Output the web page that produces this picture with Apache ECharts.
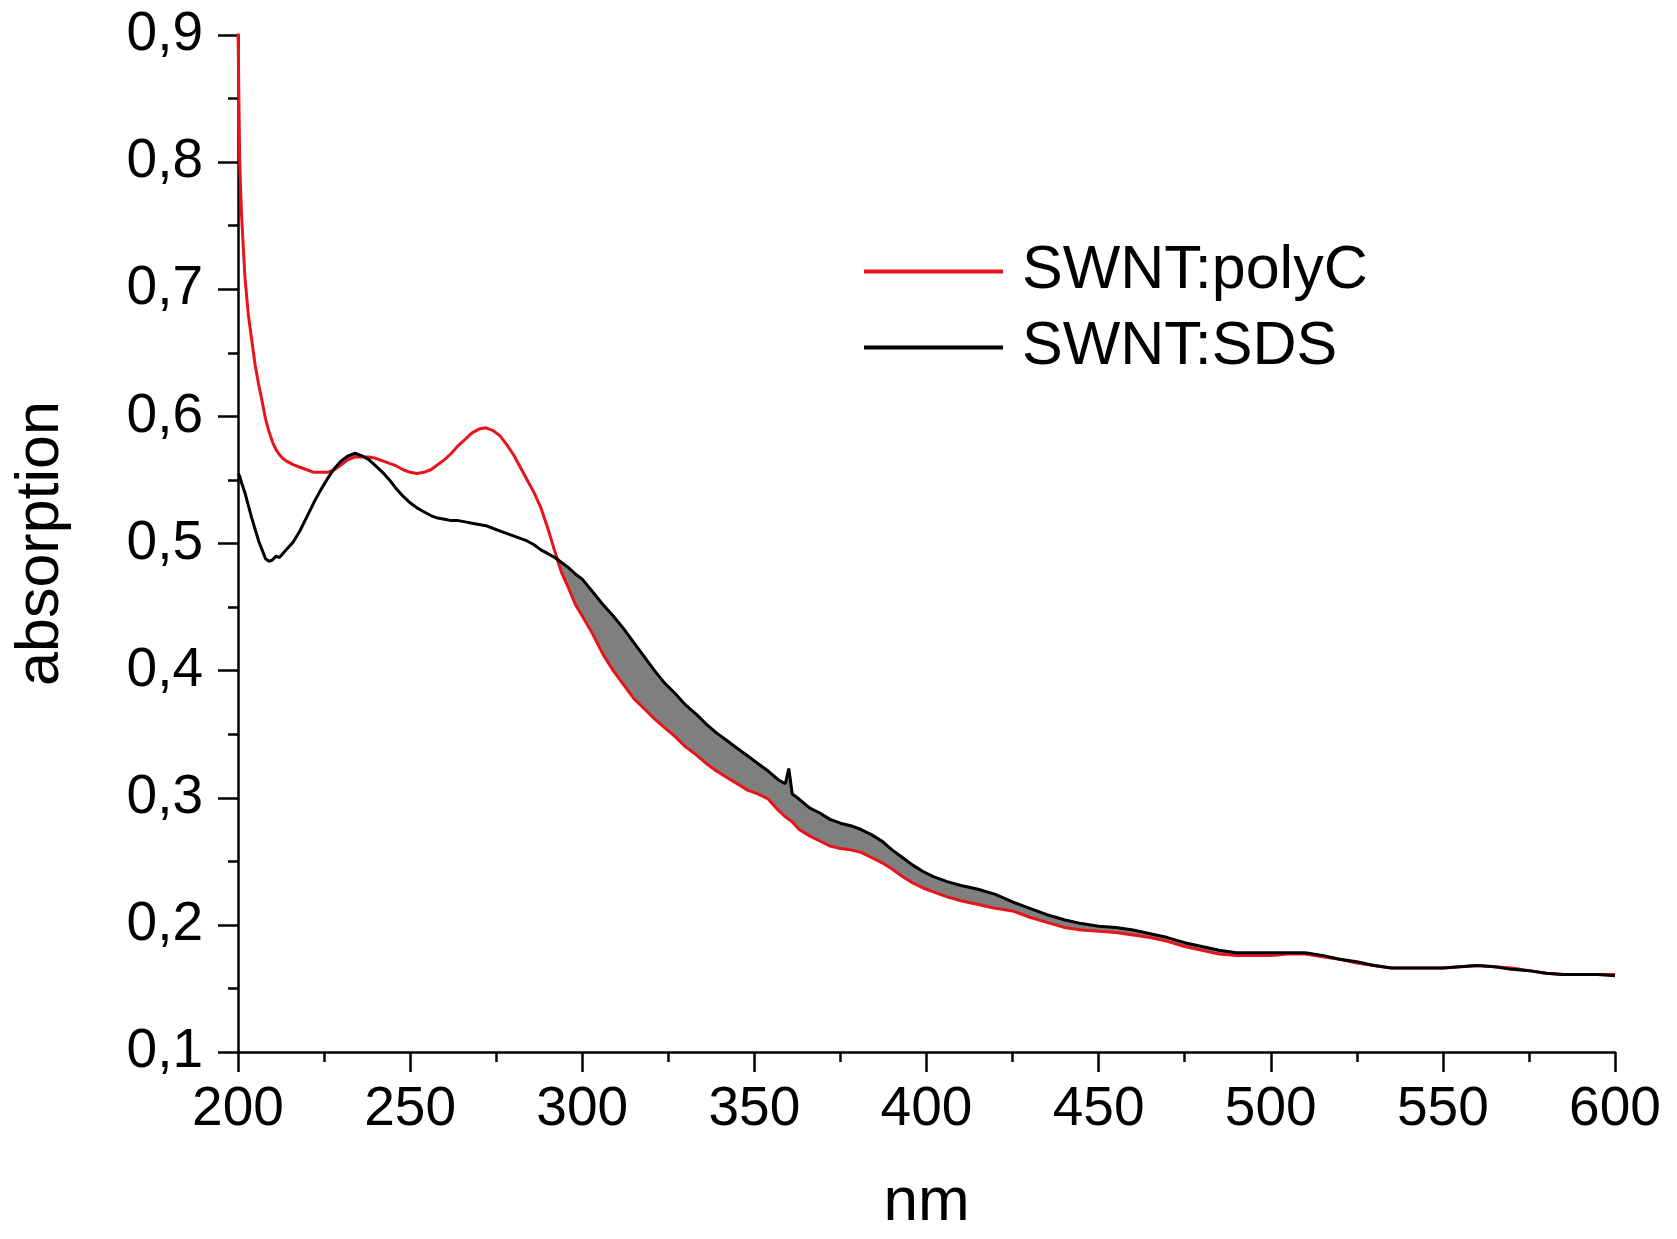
<!DOCTYPE html>
<html>
<head>
<meta charset="utf-8">
<script src="https://cdn.jsdelivr.net/npm/echarts@6/dist/echarts.min.js"></script>
<style>
html,body{margin:0;padding:0;background:#fff;}
#chart{width:1677px;height:1239px;}
</style>
</head>
<body>
<div id="chart"></div>
<script>
// wavelength (nm)
const wavelengths = [200,200.5,201,202,203,204,205,206,207,208,209,210,211,212,213,214,216,218,220,222,224,226,228,230,232,234,236,238,240,242,244,246,248,250,252,254,256,258,260,262,264,266,268,270,272,274,276,278,280,282,284,286,288,290,292,294,296,298,300,303,306,309,312,315,318,321,324,327,330,333,336,339,342,345,348,351,354,357,359,360,361,363,366,369,372,375,378,381,384,387,390,393,396,399,402,406,410,415,420,425,430,435,440,445,450,455,460,465,470,475,480,485,490,495,500,505,510,515,520,525,530,535,540,545,550,555,560,565,570,575,580,585,590,595,600];
// SWNT:polyC absorption
const polyC = [0.905,0.80,0.76,0.71,0.68,0.66,0.64,0.625,0.612,0.598,0.588,0.580,0.574,0.570,0.567,0.565,0.562,0.560,0.558,0.556,0.556,0.556,0.558,0.562,0.566,0.568,0.568,0.568,0.567,0.565,0.563,0.561,0.558,0.556,0.555,0.556,0.558,0.562,0.566,0.571,0.577,0.582,0.587,0.590,0.591,0.589,0.585,0.578,0.570,0.560,0.550,0.540,0.528,0.512,0.494,0.477,0.465,0.452,0.443,0.429,0.413,0.400,0.389,0.378,0.370,0.362,0.355,0.348,0.340,0.334,0.327,0.321,0.316,0.311,0.306,0.303,0.299,0.290,0.285,0.283,0.281,0.275,0.270,0.266,0.262,0.260,0.259,0.257,0.253,0.249,0.244,0.238,0.233,0.229,0.226,0.222,0.219,0.216,0.213,0.211,0.206,0.202,0.198,0.196,0.195,0.194,0.192,0.190,0.187,0.183,0.180,0.177,0.176,0.176,0.176,0.177,0.177,0.175,0.173,0.170,0.168,0.166,0.166,0.166,0.166,0.167,0.168,0.167,0.166,0.164,0.162,0.161,0.161,0.161,0.161];
// SWNT:SDS absorption
const sds = [0.555,0.553,0.548,0.540,0.530,0.520,0.511,0.502,0.495,0.488,0.486,0.487,0.490,0.489,0.492,0.495,0.501,0.510,0.521,0.532,0.542,0.551,0.559,0.565,0.569,0.571,0.569,0.566,0.561,0.556,0.550,0.543,0.537,0.532,0.528,0.525,0.522,0.520,0.519,0.518,0.518,0.517,0.516,0.515,0.514,0.512,0.510,0.508,0.506,0.504,0.502,0.499,0.495,0.492,0.489,0.485,0.481,0.476,0.472,0.462,0.452,0.443,0.433,0.422,0.411,0.400,0.390,0.382,0.373,0.366,0.358,0.351,0.345,0.339,0.333,0.327,0.321,0.314,0.311,0.323,0.303,0.299,0.292,0.288,0.283,0.280,0.278,0.275,0.271,0.266,0.259,0.253,0.247,0.242,0.238,0.234,0.231,0.228,0.224,0.218,0.213,0.208,0.204,0.201,0.199,0.198,0.196,0.193,0.190,0.186,0.183,0.180,0.178,0.178,0.178,0.178,0.178,0.176,0.173,0.171,0.168,0.166,0.166,0.166,0.166,0.167,0.168,0.167,0.165,0.164,0.162,0.161,0.161,0.161,0.160];
const xTicks = [200,250,300,350,400,450,500,550,600];
const yTicks = [0.1,0.2,0.3,0.4,0.5,0.6,0.7,0.8,0.9];
const seriesNames = ['SWNT:polyC','SWNT:SDS'];

const FONT = '"Liberation Sans", Arial, Helvetica, sans-serif';
const chart = echarts.init(document.getElementById('chart'), null, {renderer:'canvas'});

// shaded band between the curves where SDS lies above polyC
const bandData = wavelengths.map((w,i)=>[w, polyC[i], Math.max(sds[i], polyC[i])]);

function renderBand(params, api){
  if (params.dataIndex !== 0) return null;
  const top = [], bottom = [];
  for (let i = 0; i < bandData.length; i++){
    top.push(api.coord([bandData[i][0], bandData[i][2]]));
    bottom.push(api.coord([bandData[i][0], bandData[i][1]]));
  }
  const pts = top.concat(bottom.reverse());
  return {type:'polygon', shape:{points:pts}, style:{fill:'#7f7f7f', stroke:null}, silent:true};
}

chart.setOption({
  animation:false,
  backgroundColor:'#fff',
  grid:{left:238, right:62, top:35, bottom:172, containLabel:false},
  legend:{
    orient:'vertical', left:859, top:236,
    data:seriesNames,
    itemWidth:139, itemHeight:20, itemGap:15,
    icon:'path://M0,8 L139,8 L139,12 L0,12 Z',
    textStyle:{fontFamily:FONT, fontSize:61, color:'#000', lineHeight:60, padding:[0,0,0,14]}
  },
  xAxis:{
    type:'value', min:xTicks[0], max:xTicks[xTicks.length-1], interval:50,
    name:'nm', nameLocation:'middle', nameGap:120,
    nameTextStyle:{fontFamily:FONT, fontSize:62, color:'#000'},
    axisLine:{show:true, onZero:false, lineStyle:{color:'#000', width:2.5}},
    axisTick:{show:true, inside:false, length:20, lineStyle:{color:'#000', width:2.5}},
    minorTick:{show:true, splitNumber:2, length:10, lineStyle:{color:'#000', width:2.5}},
    splitLine:{show:false},
    axisLabel:{margin:30, fontFamily:FONT, fontSize:55, color:'#000', formatter:v=>String(v)}
  },
  yAxis:{
    type:'value', min:yTicks[0], max:yTicks[yTicks.length-1], interval:0.1,
    name:'absorption', nameLocation:'middle', nameGap:166, nameRotate:90,
    nameTextStyle:{fontFamily:FONT, fontSize:61, color:'#000'},
    axisLine:{show:true, onZero:false, lineStyle:{color:'#000', width:2.5}},
    axisTick:{show:true, inside:false, length:20, lineStyle:{color:'#000', width:2.5}},
    minorTick:{show:true, splitNumber:2, length:10, lineStyle:{color:'#000', width:2.5}},
    splitLine:{show:false},
    axisLabel:{margin:35, fontFamily:FONT, fontSize:55, color:'#000', formatter:v=>v.toFixed(1).replace('.', ',')}
  },
  series:[
    {name:'band', type:'custom', renderItem:renderBand, data:bandData, encode:{x:0, y:[1,2]}, silent:true, z:1},
    {name:seriesNames[0], type:'line', data:wavelengths.map((w,i)=>[w, polyC[i]]), symbol:'none', lineStyle:{color:'#e8141c', width:3}, itemStyle:{color:'#e8141c'}, z:3},
    {name:seriesNames[1], type:'line', data:wavelengths.map((w,i)=>[w, sds[i]]), symbol:'none', lineStyle:{color:'#000', width:3}, itemStyle:{color:'#000'}, z:4}
  ]
});
</script>
</body>
</html>
